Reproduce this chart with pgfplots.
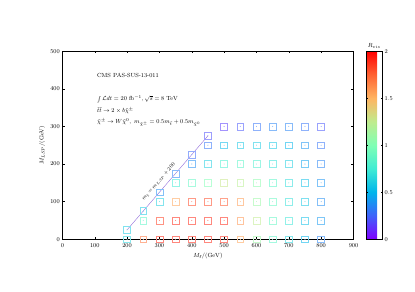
\documentclass[border=0pt]{standalone}
\usepackage{pgfplots}
\usepackage{pgfplotstable}
\pgfplotsset{compat=1.18}
\usepackage{amsmath}

\pgfplotstableread{
x y r
200 0 0.65
250 0 1.70
300 0 1.90
350 0 1.90
400 0 1.90
450 0 1.90
500 0 1.90
550 0 1.55
600 0 1.10
650 0 0.85
700 0 0.65
750 0 0.50
800 0 0.35
200 25 0.60
250 50 0.85
300 50 1.85
350 50 1.90
400 50 1.90
450 50 1.90
500 50 1.90
550 50 1.60
600 50 1.25
650 50 0.88
700 50 0.72
750 50 0.55
800 50 0.42
250 75 0.60
300 100 0.62
350 100 1.55
400 100 1.82
450 100 1.82
500 100 1.78
550 100 1.58
600 100 1.10
650 100 0.90
700 100 0.70
750 100 0.58
800 100 0.38
300 125 0.38
350 150 0.75
400 150 0.88
450 150 1.00
500 150 1.28
550 150 1.22
600 150 1.05
650 150 0.85
700 150 0.68
750 150 0.55
800 150 0.40
350 175 0.34
400 200 0.38
450 200 0.62
500 200 0.78
550 200 0.85
600 200 0.80
650 200 0.70
700 200 0.62
750 200 0.45
800 200 0.35
400 225 0.27
450 250 0.30
500 250 0.52
550 250 0.58
600 250 0.60
650 250 0.58
700 250 0.50
750 250 0.40
800 250 0.30
450 275 0.20
500 300 0.15
550 300 0.22
600 300 0.30
650 300 0.35
700 300 0.35
750 300 0.30
800 300 0.22
}\grid

\begin{document}
\begin{tikzpicture}
\path[use as bounding box] (-84.2pt,-70pt) rectangle (476pt,323pt);
\begin{axis}[
  scale only axis,
  width=393pt, height=254pt,
  xmin=0, xmax=900, ymin=0, ymax=500,
  xtick={0,100,...,900}, ytick={0,100,...,500},
  tick align=inside, major tick length=3pt,
  minor tick num=0,
  tick style={black, line width=0.6pt},
  axis line style={black, line width=0.6pt},
  tick label style={font=\footnotesize},
  xticklabel style={yshift=-2.5pt},
  xlabel={$M_{\tilde t}/(\mathrm{GeV})$},
  ylabel={$M_{LSP}/(\mathrm{GeV})$},
  label style={font=\footnotesize},
  colormap={mplrainbow}{
    rgb=(0.5,0,1) rgb=(0.25,0.383,0.981) rgb=(0,0.707,0.924)
    rgb=(0.25,0.924,0.831) rgb=(0.5,1,0.707) rgb=(0.75,0.924,0.556)
    rgb=(1,0.707,0.383) rgb=(1,0.383,0.195) rgb=(1,0,0)},
  point meta min=0, point meta max=2,
  colorbar,
  colorbar style={
    at={(parent axis.north east)}, anchor=north west, xshift=9pt,
    width=21pt,
    ytick={0,0.5,1,1.5,2},
    yticklabel style={font=\footnotesize, /pgf/number format/fixed},
    tick align=inside, major tick length=2pt,
    title={$R_{vis}$}, title style={font=\footnotesize, yshift=-6pt},
  },
  scatter/use mapped color={draw=mapped color!55!white, fill=mapped color!55!white},
]
\addplot[blue!50!violet!60!white, line width=0.5pt] coordinates {(200,25) (450,275)};
\addplot[scatter, only marks, mark=square, mark size=4.6pt,
  mark options={line width=0.75pt}, scatter src=explicit]
  table[x=x, y=y, meta=r] {\grid};
\addplot[scatter, only marks, mark=*, mark size=0.4pt, scatter src=explicit]
  table[x=x, y=y, meta=r] {\grid};
\node[anchor=west, inner sep=0pt, font=\footnotesize] at (axis cs:107,435) {CMS PAS-SUS-13-011};
\node[anchor=west, inner sep=0pt, font=\footnotesize] at (axis cs:107,372) {$\int\mathcal{L}dt = 20~\mathrm{fb}^{-1}, \sqrt{s} = 8~\mathrm{TeV}$};
\node[anchor=west, inner sep=0pt, font=\footnotesize] at (axis cs:107,341) {$\tilde t\tilde t \rightarrow 2\times b\tilde\chi^{\pm}$};
\node[anchor=west, inner sep=0pt, font=\footnotesize] at (axis cs:107,310) {$\tilde\chi^{\pm} \rightarrow W\tilde\chi^{0},\ m_{\tilde\chi^{\pm}} = 0.5m_{\tilde t} + 0.5m_{\tilde\chi^{0}}$};
\node[font=\scriptsize, inner sep=0pt, rotate=49.3] at (axis cs:298,152) {$m_{\tilde t} = m_{LSP} + 200$};
\end{axis}
\end{tikzpicture}
\end{document}
